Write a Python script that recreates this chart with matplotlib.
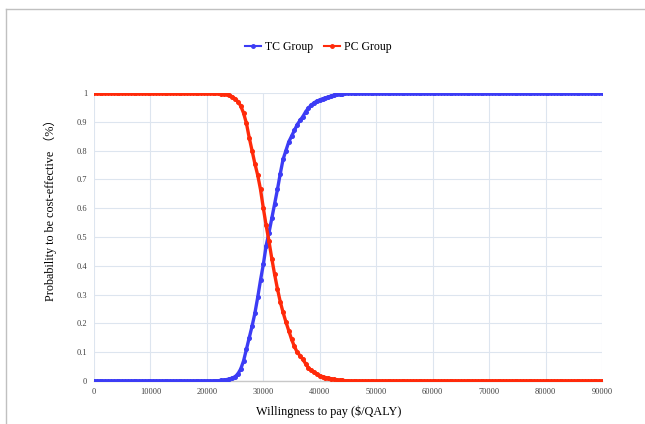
import matplotlib
matplotlib.use('Agg')
import matplotlib.pyplot as plt
from matplotlib.lines import Line2D

# willingness-to-pay thresholds ($/QALY), flat part below and above the transition
wtp_low = list(range(0, 20000, 500))
wtp_mid = list(range(20000, 46500, 500))
wtp_high = list(range(46500, 90500, 500))

# probability values in the transition region
tc_mid = [0.000, 0.000, 0.000, 0.001, 0.001, 0.002, 0.003, 0.005, 0.007, 0.010,
          0.015, 0.025, 0.042, 0.070, 0.110, 0.150, 0.190, 0.235, 0.290, 0.350,
          0.405, 0.470, 0.515, 0.565, 0.615, 0.665, 0.720, 0.770, 0.800, 0.830,
          0.850, 0.870, 0.890, 0.905, 0.918, 0.935, 0.948, 0.958, 0.966, 0.972,
          0.976, 0.980, 0.983, 0.986, 0.989, 0.992, 0.995, 0.997, 0.998, 0.999,
          0.999, 1.000, 1.000]
pc_mid = [1.000, 1.000, 1.000, 0.999, 0.999, 0.998, 0.997, 0.995, 0.992, 0.987,
          0.980, 0.970, 0.955, 0.930, 0.895, 0.845, 0.800, 0.755, 0.715, 0.665,
          0.600, 0.540, 0.485, 0.425, 0.370, 0.320, 0.275, 0.238, 0.205, 0.175,
          0.145, 0.120, 0.100, 0.088, 0.075, 0.060, 0.045, 0.037, 0.030, 0.024,
          0.018, 0.015, 0.012, 0.010, 0.008, 0.006, 0.004, 0.003, 0.002, 0.001,
          0.001, 0.000, 0.000]

wtp = wtp_low + wtp_mid + wtp_high
tc = [0.0] * len(wtp_low) + tc_mid + [1.0] * len(wtp_high)
pc = [1.0] * len(wtp_low) + pc_mid + [0.0] * len(wtp_high)

x_ticks = list(range(0, 90001, 10000))
y_ticks = [0, 0.1, 0.2, 0.3, 0.4, 0.5, 0.6, 0.7, 0.8, 0.9, 1]
y_tick_labels = ['0', '0.1', '0.2', '0.3', '0.4', '0.5', '0.6', '0.7', '0.8', '0.9', '1']

plt.rcParams['font.family'] = ['Liberation Serif', 'Noto Sans CJK SC']

fig = plt.figure(figsize=(6.45, 4.24), dpi=100)
ax = fig.add_axes([94 / 645, 1 - 381 / 424, 508 / 645, 288 / 424])

ax.plot(wtp, tc, color='#3c3cf5', marker='o', markersize=2.6, linewidth=2.4, label='TC Group', zorder=3)
ax.plot(wtp, pc, color='#ff2a0a', marker='o', markersize=2.6, linewidth=2.4, label='PC Group', zorder=3)

ax.set_xlim(0, 90000)
ax.set_ylim(0, 1)
ax.set_xticks(x_ticks)
ax.set_xticklabels([str(t) for t in x_ticks], fontsize=6, color='#404040')
ax.set_yticks(y_ticks)
ax.set_yticklabels(y_tick_labels, fontsize=6, color='#404040')
ax.tick_params(length=0, pad=5)
ax.grid(True, color='#dde5ef', linewidth=0.8)
ax.set_axisbelow(True)
for s in ['top', 'right', 'left']:
    ax.spines[s].set_visible(False)
ax.spines['bottom'].set_color('#c8c8c8')
ax.spines['bottom'].set_linewidth(1.0)

fig.text(329 / 645, 1 - 412 / 424, 'Willingness to pay ($/QALY)', fontsize=8.8,
         ha='center', va='center')
fig.text(50 / 645, 1 - 207 / 424, 'Probability to be cost-effective （%）', fontsize=8.7,
         ha='center', va='center', rotation=90)

leg = fig.legend(loc='center', bbox_to_anchor=(318 / 645, 1 - 47 / 424), ncol=2, frameon=False,
                 fontsize=8.5, handlelength=1.4, columnspacing=0.9, handletextpad=0.3)
for h in leg.legend_handles:
    h.set_linewidth(1.5)
    h.set_markersize(2.5)

# outer frame lines (top and left edge)
fig.add_artist(Line2D([6 / 645, 1], [1 - 9 / 424, 1 - 9 / 424], color='#c0c0c0', linewidth=1))
fig.add_artist(Line2D([6 / 645, 6 / 645], [0, 1 - 9 / 424], color='#c0c0c0', linewidth=1))

fig.savefig('out.png', dpi=100)
